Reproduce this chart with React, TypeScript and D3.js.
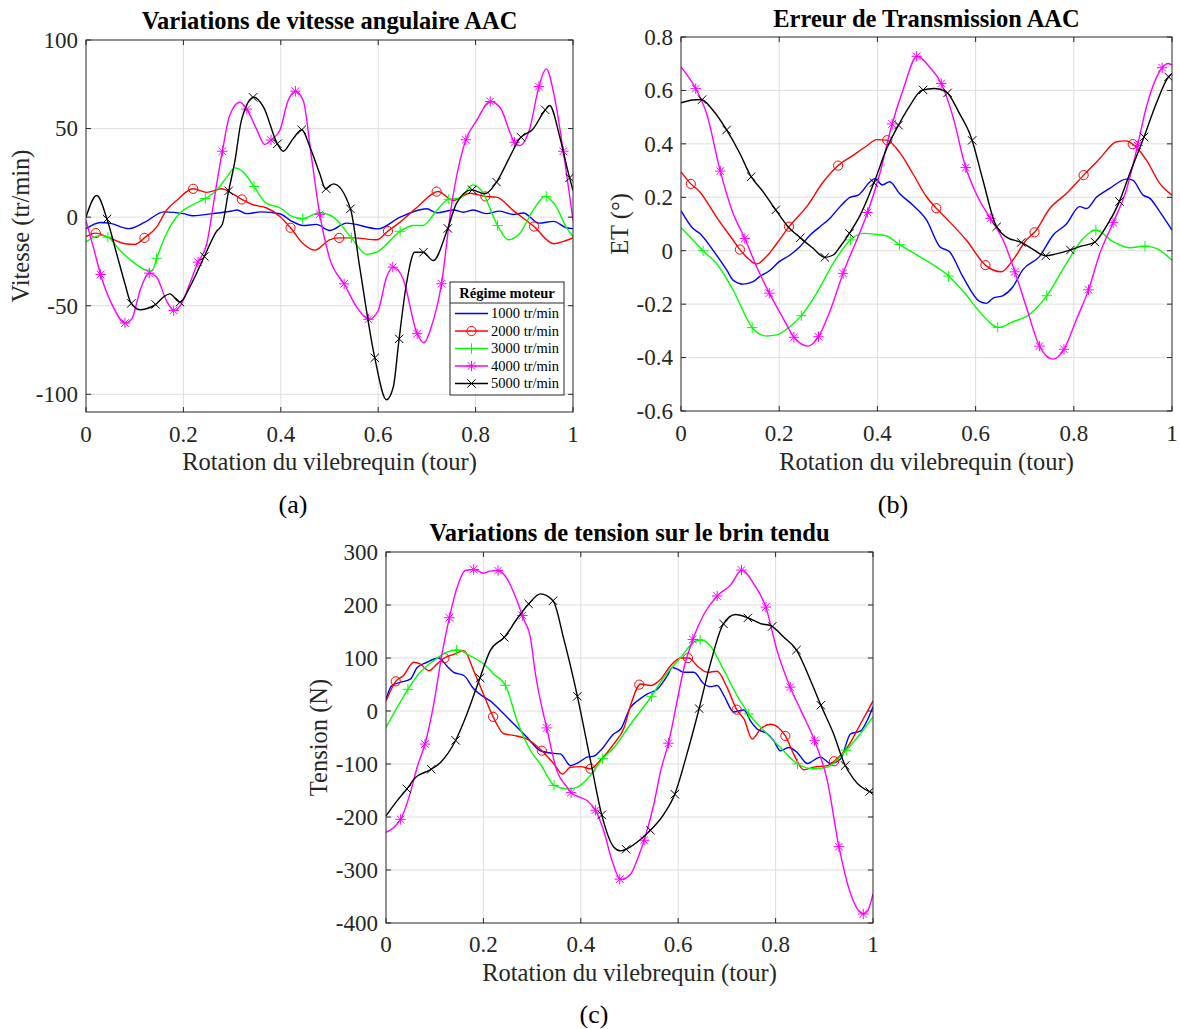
import React, { useEffect, useRef } from 'react';
import * as d3 from 'd3';

type P = [number, number];

// ---------- shared series info ----------
const seriesNames = ['1000 tr/min', '2000 tr/min', '3000 tr/min', '4000 tr/min', '5000 tr/min'];
const seriesColors = ['#0000ff', '#ff0000', '#00ff00', '#ff00ff', '#000000'];
const seriesMarkers = ['none', 'circle', 'plus', 'star', 'cross'];
const markerStart = [0, 0.02, 0.045, 0.03, 0.043];
const markerStep = [0, 0.1, 0.1, 0.05, 0.05];
const legendTitle = 'Régime moteur';

const xTicks = [0, 0.2, 0.4, 0.6, 0.8, 1];
const aYTicks = [-100, -50, 0, 50, 100];
const bYTicks = [-0.6, -0.4, -0.2, 0, 0.2, 0.4, 0.6, 0.8];
const cYTicks = [-400, -300, -200, -100, 0, 100, 200, 300];

// ---------- panel (a): Vitesse (tr/min) ----------
const aBlue: P[] = [[0,-6.5],[0.03,-3],[0.05,-3.5],[0.087,-6.5],[0.12,-3],[0.16,3],[0.2,2],[0.22,0.8],[0.26,2],[0.3,3.5],[0.31,4],[0.33,2],[0.36,3],[0.398,1.9],[0.42,-1.9],[0.446,-4.7],[0.473,-4.1],[0.5,-7.5],[0.535,-3.4],[0.6,-6.6],[0.645,0],[0.7,4.7],[0.72,2.4],[0.755,4],[0.775,2.8],[0.795,4],[0.822,2],[0.85,3.4],[0.877,1.5],[0.898,2.3],[0.93,-3.4],[0.96,-2.4],[0.986,-6],[1,-6.5]];
const aRed: P[] = [[0,-11],[0.02,-9],[0.045,-11.3],[0.08,-15],[0.1,-15.4],[0.12,-11.7],[0.145,-5.6],[0.165,3.8],[0.186,9.4],[0.22,16],[0.248,14],[0.278,16],[0.302,13],[0.32,10],[0.343,7],[0.37,5.3],[0.398,0.4],[0.42,-6],[0.446,-15],[0.47,-18.6],[0.5,-12.8],[0.52,-11.7],[0.55,-11.7],[0.597,-12.8],[0.62,-7.9],[0.645,-2.8],[0.68,5.6],[0.723,14.5],[0.754,9.4],[0.788,13.5],[0.82,11.7],[0.843,11.3],[0.877,3.8],[0.92,-5.3],[0.96,-15],[0.986,-13.2],[1,-11.7]];
const aGreen: P[] = [[0,-14],[0.03,-10.3],[0.045,-11.3],[0.07,-18.8],[0.097,-25.4],[0.124,-30],[0.135,-30.5],[0.147,-21.6],[0.165,-9.4],[0.193,2.3],[0.22,7.1],[0.246,10.7],[0.268,15],[0.289,22.6],[0.306,27.8],[0.323,25.4],[0.345,17.3],[0.37,7.9],[0.398,5.3],[0.42,0.9],[0.444,-0.9],[0.48,2.5],[0.508,0],[0.545,-11.7],[0.576,-21],[0.597,-19.8],[0.645,-8],[0.672,-4.7],[0.692,-4.7],[0.72,3.8],[0.744,10],[0.768,10.9],[0.794,18.2],[0.812,15],[0.845,-4.7],[0.867,-12.8],[0.89,-9.4],[0.918,3.8],[0.943,11.8],[0.966,5.6],[0.986,-5.6],[1,-10.9]];
const aMagenta: P[] = [[0,-2],[0.015,-16.9],[0.032,-34.2],[0.056,-50.8],[0.08,-59.8],[0.094,-57.4],[0.111,-41.4],[0.13,-31.6],[0.145,-33.9],[0.165,-47],[0.181,-52.7],[0.196,-48.9],[0.213,-37.6],[0.229,-26],[0.248,-15],[0.265,13.2],[0.28,37.2],[0.295,57.4],[0.316,64.9],[0.331,60.6],[0.35,49.8],[0.367,41],[0.379,43.3],[0.398,48.9],[0.415,65.8],[0.43,71.1],[0.446,65.8],[0.463,33.9],[0.479,3.2],[0.5,-23],[0.532,-38.6],[0.556,-50.8],[0.581,-57.7],[0.6,-52.7],[0.617,-33.9],[0.631,-28.2],[0.651,-34.8],[0.68,-65.8],[0.694,-70.9],[0.709,-62],[0.73,-37.6],[0.75,5.6],[0.779,42.9],[0.802,54.5],[0.83,65.3],[0.85,62],[0.88,42.3],[0.89,40.4],[0.911,49.8],[0.93,73.7],[0.945,83.7],[0.962,67.7],[0.98,37.2],[1,-1.9]];
const aBlack: P[] = [[0,0],[0.022,12.2],[0.044,-1.9],[0.063,-20.7],[0.08,-37.6],[0.092,-48.3],[0.111,-52.3],[0.124,-51.7],[0.142,-49.5],[0.159,-45.1],[0.172,-43.3],[0.193,-48],[0.213,-39.5],[0.243,-22.2],[0.268,-8],[0.28,-4],[0.292,13.5],[0.306,32],[0.319,54.5],[0.345,67.7],[0.364,62.4],[0.393,41.4],[0.405,37.2],[0.425,44.2],[0.443,49.3],[0.46,39.5],[0.48,24.5],[0.492,16],[0.508,18.8],[0.543,4.7],[0.562,-28.2],[0.593,-79.4],[0.617,-103.1],[0.631,-95.9],[0.642,-70.9],[0.658,-37.6],[0.675,-19.8],[0.692,-19.8],[0.713,-24.5],[0.742,-7.1],[0.761,7.9],[0.792,15.4],[0.819,13.2],[0.843,19.8],[0.87,33.9],[0.89,44.2],[0.918,49.8],[0.942,60.2],[0.952,63],[0.973,45.1],[0.99,25.4],[1,15]];

// ---------- panel (b): ET (deg) ----------
const bBlue: P[] = [[0,0.15],[0.024,0.084],[0.038,0.065],[0.065,0.002],[0.093,-0.072],[0.106,-0.11],[0.127,-0.125],[0.147,-0.116],[0.16,-0.097],[0.18,-0.075],[0.2,-0.041],[0.222,-0.016],[0.242,0.015],[0.263,0.059],[0.283,0.09],[0.303,0.121],[0.324,0.165],[0.344,0.2],[0.361,0.208],[0.385,0.258],[0.395,0.27],[0.41,0.246],[0.425,0.258],[0.445,0.214],[0.472,0.171],[0.5,0.115],[0.527,0.015],[0.547,-0.004],[0.574,-0.097],[0.608,-0.19],[0.622,-0.197],[0.635,-0.178],[0.656,-0.168],[0.676,-0.135],[0.696,-0.072],[0.73,-0.022],[0.758,0.059],[0.785,0.1],[0.812,0.165],[0.826,0.158],[0.846,0.2],[0.873,0.233],[0.907,0.268],[0.92,0.264],[0.941,0.208],[0.955,0.196],[0.975,0.146],[1,0.077]];
const bRed: P[] = [[0,0.295],[0.019,0.252],[0.038,0.221],[0.072,0.127],[0.106,0.04],[0.121,0.002],[0.14,-0.035],[0.154,-0.05],[0.174,-0.022],[0.195,0.027],[0.22,0.09],[0.256,0.165],[0.29,0.258],[0.319,0.317],[0.351,0.358],[0.378,0.392],[0.399,0.416],[0.419,0.414],[0.446,0.366],[0.472,0.289],[0.5,0.202],[0.522,0.155],[0.547,0.108],[0.581,0.04],[0.62,-0.054],[0.652,-0.079],[0.676,-0.035],[0.703,0.04],[0.721,0.071],[0.751,0.158],[0.785,0.214],[0.82,0.283],[0.853,0.345],[0.887,0.408],[0.907,0.411],[0.92,0.399],[0.948,0.339],[0.975,0.252],[1,0.208]];
const bGreen: P[] = [[0,0.086],[0.018,0.052],[0.047,-0.004],[0.072,-0.047],[0.106,-0.147],[0.146,-0.29],[0.174,-0.319],[0.195,-0.315],[0.222,-0.284],[0.246,-0.241],[0.276,-0.16],[0.31,-0.047],[0.346,0.042],[0.371,0.065],[0.399,0.061],[0.419,0.055],[0.444,0.024],[0.486,-0.022],[0.545,-0.095],[0.581,-0.166],[0.608,-0.228],[0.647,-0.287],[0.676,-0.266],[0.703,-0.247],[0.746,-0.166],[0.785,-0.047],[0.819,0.046],[0.845,0.077],[0.88,0.034],[0.914,0.011],[0.943,0.017],[0.968,0.009],[1,-0.037]];
const bMagenta: P[] = [[0,0.688],[0.031,0.603],[0.052,0.514],[0.08,0.298],[0.106,0.14],[0.13,0.046],[0.154,-0.06],[0.182,-0.166],[0.208,-0.253],[0.23,-0.324],[0.259,-0.357],[0.28,-0.322],[0.303,-0.228],[0.332,-0.075],[0.358,0.04],[0.38,0.143],[0.405,0.289],[0.429,0.468],[0.452,0.601],[0.481,0.728],[0.506,0.688],[0.53,0.626],[0.554,0.501],[0.579,0.317],[0.601,0.214],[0.632,0.115],[0.656,0.04],[0.68,-0.079],[0.703,-0.209],[0.73,-0.357],[0.758,-0.406],[0.78,-0.369],[0.805,-0.259],[0.831,-0.141],[0.853,-0.01],[0.88,0.105],[0.907,0.227],[0.927,0.37],[0.948,0.539],[0.98,0.685],[0.992,0.701],[1,0.695]];
const bBlack: P[] = [[0,0.554],[0.024,0.564],[0.041,0.566],[0.065,0.526],[0.091,0.458],[0.12,0.364],[0.141,0.283],[0.167,0.221],[0.191,0.158],[0.218,0.09],[0.242,0.05],[0.269,0.009],[0.293,-0.025],[0.31,-0.016],[0.324,0.015],[0.343,0.065],[0.365,0.133],[0.395,0.264],[0.419,0.383],[0.443,0.47],[0.465,0.539],[0.491,0.601],[0.516,0.607],[0.54,0.595],[0.567,0.514],[0.591,0.424],[0.615,0.264],[0.639,0.105],[0.662,0.052],[0.693,0.031],[0.717,0.005],[0.742,-0.019],[0.764,-0.012],[0.792,0.002],[0.815,0.017],[0.841,0.03],[0.866,0.09],[0.892,0.18],[0.914,0.289],[0.941,0.416],[0.968,0.551],[0.993,0.651],[1,0.663]];

// ---------- panel (c): Tension (N) ----------
const cBlue: P[] = [[0,22],[0.012,48],[0.029,54],[0.05,60],[0.064,82],[0.084,92],[0.108,100],[0.125,85],[0.139,73],[0.16,67],[0.18,42],[0.2,27],[0.214,19],[0.235,1],[0.262,-24],[0.29,-50],[0.317,-75],[0.345,-80],[0.358,-81],[0.379,-103],[0.392,-99],[0.413,-87],[0.427,-85],[0.44,-75],[0.468,-43],[0.482,-34],[0.502,7],[0.516,19],[0.536,32],[0.557,41],[0.578,67],[0.588,82],[0.598,79],[0.612,73],[0.632,73],[0.653,51],[0.666,46],[0.68,48],[0.694,29],[0.714,-2],[0.735,2],[0.748,-18],[0.762,-34],[0.783,-43],[0.796,-56],[0.81,-75],[0.827,-69],[0.844,-78],[0.865,-99],[0.892,-87],[0.913,-99],[0.933,-91],[0.954,-43],[0.974,-38],[0.988,-18],[1,8]];
const cRed: P[] = [[0,19],[0.02,56],[0.036,67],[0.057,92],[0.07,89],[0.088,76],[0.105,89],[0.122,101],[0.139,107],[0.16,114],[0.18,76],[0.2,32],[0.22,-11],[0.242,-43],[0.262,-46],[0.29,-53],[0.319,-74],[0.345,-100],[0.362,-119],[0.379,-106],[0.4,-105],[0.42,-109],[0.44,-93],[0.468,-62],[0.489,-31],[0.502,10],[0.523,51],[0.543,48],[0.564,60],[0.584,85],[0.605,100],[0.622,100],[0.639,85],[0.66,73],[0.68,75],[0.7,45],[0.721,1],[0.735,-15],[0.752,-53],[0.769,-34],[0.79,-25],[0.82,-47],[0.837,-81],[0.858,-111],[0.878,-106],[0.906,-103],[0.921,-94],[0.947,-69],[0.974,-25],[1,19]];
const cGreen: P[] = [[0,-31],[0.023,7],[0.045,41],[0.07,73],[0.098,95],[0.125,111],[0.147,115],[0.173,104],[0.2,89],[0.221,70],[0.247,45],[0.269,-18],[0.297,-75],[0.317,-100],[0.346,-141],[0.372,-147],[0.392,-144],[0.42,-121],[0.444,-91],[0.468,-69],[0.502,-25],[0.543,25],[0.571,64],[0.605,101],[0.632,130],[0.647,134],[0.666,123],[0.687,89],[0.721,29],[0.747,-8],[0.776,-37],[0.81,-69],[0.844,-99],[0.878,-109],[0.906,-106],[0.943,-76],[0.974,-43],[1,-11]];
const cMagenta: P[] = [[0,-229],[0.016,-220],[0.032,-201],[0.05,-154],[0.064,-106],[0.081,-59],[0.098,13],[0.115,108],[0.131,180],[0.146,233],[0.163,265],[0.182,267],[0.2,260],[0.214,264],[0.229,265],[0.249,249],[0.266,215],[0.282,175],[0.297,136],[0.306,75],[0.331,-36],[0.351,-113],[0.372,-144],[0.38,-154],[0.399,-163],[0.413,-169],[0.431,-189],[0.447,-226],[0.464,-282],[0.482,-318],[0.502,-308],[0.519,-273],[0.532,-238],[0.55,-176],[0.564,-113],[0.581,-57],[0.598,20],[0.612,82],[0.63,135],[0.653,183],[0.681,218],[0.707,237],[0.731,266],[0.755,240],[0.78,196],[0.803,114],[0.83,45],[0.854,-3],[0.88,-56],[0.906,-131],[0.93,-256],[0.954,-345],[0.98,-383],[0.989,-377],[1,-345]];
const cBlack: P[] = [[0,-198],[0.023,-169],[0.043,-147],[0.06,-126],[0.091,-111],[0.112,-97],[0.141,-59],[0.166,-6],[0.192,60],[0.214,114],[0.244,140],[0.269,174],[0.293,202],[0.317,221],[0.343,208],[0.365,136],[0.392,32],[0.42,-94],[0.443,-196],[0.468,-257],[0.482,-264],[0.495,-260],[0.523,-242],[0.543,-225],[0.571,-194],[0.593,-157],[0.618,-81],[0.642,1],[0.666,89],[0.692,163],[0.718,182],[0.745,175],[0.769,165],[0.79,161],[0.817,139],[0.843,115],[0.872,57],[0.892,13],[0.919,-43],[0.941,-99],[0.96,-128],[0.993,-152],[1,-154]];

// ---------- layout (pixels, not data) ----------
const FONT = "'Liberation Serif', 'Times New Roman', serif";
const AXIS_COLOR = '#262626';
const GRID_COLOR = '#dedede';
const TICK_FS = 23;
const LABEL_FS = 24.5;
const TITLE_FS = 24.5;

interface PanelCfg {
  left: number; right: number; top: number; bottom: number;
  yDomain: [number, number]; yTicks: number[];
  title: string; yLabel: string; tag: string;
  series: P[][]; legend: boolean;
  titleY: number; xTickY: number; xLabelY: number; yLabelX: number; tagY: number; tagX: number;
}

const panels: PanelCfg[] = [
  { left: 86, right: 573, top: 40, bottom: 412, yDomain: [-110, 100], yTicks: aYTicks,
    title: 'Variations de vitesse angulaire AAC', yLabel: 'Vitesse (tr/min)', tag: '(a)',
    series: [aBlue, aRed, aGreen, aMagenta, aBlack], legend: true,
    titleY: 29, xTickY: 442, xLabelY: 470, yLabelX: 29, tagY: 513, tagX: 293 },
  { left: 681, right: 1172, top: 37, bottom: 411, yDomain: [-0.6, 0.8], yTicks: bYTicks,
    title: 'Erreur de Transmission AAC', yLabel: 'ET (°)', tag: '(b)',
    series: [bBlue, bRed, bGreen, bMagenta, bBlack], legend: false,
    titleY: 27, xTickY: 441, xLabelY: 470, yLabelX: 628, tagY: 513, tagX: 893 },
  { left: 386, right: 873, top: 552, bottom: 923, yDomain: [-400, 300], yTicks: cYTicks,
    title: 'Variations de tension sur le brin tendu', yLabel: 'Tension (N)', tag: '(c)',
    series: [cBlue, cRed, cGreen, cMagenta, cBlack], legend: false,
    titleY: 541, xTickY: 952, xLabelY: 981, yLabelX: 327, tagY: 1023, tagX: 594 },
];

function drawMarker(g: any, type: string, x: number, y: number, color: string) {
  if (type === 'none') return;
  if (type === 'circle') {
    g.append('circle').attr('cx', x).attr('cy', y).attr('r', 4.6)
      .attr('fill', 'none').attr('stroke', color).attr('stroke-width', 1);
    return;
  }
  const segs: number[][] = [];
  const s = 5.2;
  if (type === 'plus' || type === 'star') { segs.push([-s, 0, s, 0], [0, -s, 0, s]); }
  if (type === 'cross' || type === 'star') {
    const d = type === 'star' ? 3.8 : 4.2;
    segs.push([-d, -d, d, d], [-d, d, d, -d]);
  }
  segs.forEach(sg => {
    g.append('line').attr('x1', x + sg[0]).attr('y1', y + sg[1]).attr('x2', x + sg[2]).attr('y2', y + sg[3])
      .attr('stroke', color).attr('stroke-width', 1);
  });
}

function pointAtX(path: SVGPathElement, xt: number) {
  const total = path.getTotalLength();
  let lo = 0, hi = total;
  for (let i = 0; i < 40; i++) {
    const mid = (lo + hi) / 2;
    const p = path.getPointAtLength(mid);
    if (p.x < xt) lo = mid; else hi = mid;
  }
  return path.getPointAtLength((lo + hi) / 2);
}

export default function App() {
  const ref = useRef<SVGSVGElement>(null);
  useEffect(() => {
    const svg = d3.select(ref.current);
    svg.selectAll('*').remove();
    panels.forEach((cfg, pi) => {
      const x = d3.scaleLinear().domain([0, 1]).range([cfg.left, cfg.right]);
      const y = d3.scaleLinear().domain(cfg.yDomain).range([cfg.bottom, cfg.top]);
      const g = svg.append('g');
      const clipId = `clip${pi}`;
      g.append('clipPath').attr('id', clipId).append('rect')
        .attr('x', cfg.left).attr('y', cfg.top).attr('width', cfg.right - cfg.left).attr('height', cfg.bottom - cfg.top);
      g.append('rect').attr('x', cfg.left).attr('y', cfg.top).attr('width', cfg.right - cfg.left)
        .attr('height', cfg.bottom - cfg.top).attr('fill', '#fff');
      // grid
      xTicks.forEach(t => {
        if (t === 0 || t === 1) return;
        g.append('line').attr('x1', x(t)).attr('x2', x(t)).attr('y1', cfg.top).attr('y2', cfg.bottom)
          .attr('stroke', GRID_COLOR).attr('stroke-width', 1);
      });
      cfg.yTicks.forEach(t => {
        const yy = y(t);
        if (Math.abs(yy - cfg.top) < 1 || Math.abs(yy - cfg.bottom) < 1) return;
        g.append('line').attr('x1', cfg.left).attr('x2', cfg.right).attr('y1', yy).attr('y2', yy)
          .attr('stroke', GRID_COLOR).attr('stroke-width', 1);
      });
      // lines
      const line = d3.line<P>().x(d => x(d[0])).y(d => y(d[1])).curve(d3.curveMonotoneX);
      const lg = g.append('g').attr('clip-path', `url(#${clipId})`);
      cfg.series.forEach((data, si) => {
        const path = lg.append('path').attr('d', line(data) as string).attr('fill', 'none')
          .attr('stroke', seriesColors[si]).attr('stroke-width', 1.4);
        if (seriesMarkers[si] !== 'none') {
          const node = path.node() as SVGPathElement;
          for (let k = 0; ; k++) {
            const xv = markerStart[si] + k * markerStep[si];
            if (xv > 1.0001) break;
            const p = pointAtX(node, x(xv));
            drawMarker(lg, seriesMarkers[si], p.x, p.y, seriesColors[si]);
          }
        }
      });
      // box
      g.append('rect').attr('x', cfg.left).attr('y', cfg.top).attr('width', cfg.right - cfg.left)
        .attr('height', cfg.bottom - cfg.top).attr('fill', 'none').attr('stroke', AXIS_COLOR).attr('stroke-width', 1);
      const tl = 5;
      xTicks.forEach(t => {
        g.append('line').attr('x1', x(t)).attr('x2', x(t)).attr('y1', cfg.bottom).attr('y2', cfg.bottom - tl).attr('stroke', AXIS_COLOR);
        g.append('line').attr('x1', x(t)).attr('x2', x(t)).attr('y1', cfg.top).attr('y2', cfg.top + tl).attr('stroke', AXIS_COLOR);
        g.append('text').attr('x', x(t)).attr('y', cfg.xTickY).attr('text-anchor', 'middle')
          .attr('font-family', FONT).attr('font-size', TICK_FS).attr('fill', AXIS_COLOR).text(String(t));
      });
      cfg.yTicks.forEach(t => {
        g.append('line').attr('x1', cfg.left).attr('x2', cfg.left + tl).attr('y1', y(t)).attr('y2', y(t)).attr('stroke', AXIS_COLOR);
        g.append('line').attr('x1', cfg.right).attr('x2', cfg.right - tl).attr('y1', y(t)).attr('y2', y(t)).attr('stroke', AXIS_COLOR);
        g.append('text').attr('x', cfg.left - 8).attr('y', y(t)).attr('dy', '0.34em').attr('text-anchor', 'end')
          .attr('font-family', FONT).attr('font-size', TICK_FS).attr('fill', AXIS_COLOR).text(String(t));
      });
      // labels
      const cx = (cfg.left + cfg.right) / 2;
      const cy = (cfg.top + cfg.bottom) / 2;
      g.append('text').attr('x', cx).attr('y', cfg.titleY).attr('text-anchor', 'middle')
        .attr('font-family', FONT).attr('font-size', TITLE_FS).attr('font-weight', 'bold').attr('fill', '#000').text(cfg.title);
      g.append('text').attr('x', cx).attr('y', cfg.xLabelY).attr('text-anchor', 'middle')
        .attr('font-family', FONT).attr('font-size', LABEL_FS).attr('fill', AXIS_COLOR).text('Rotation du vilebrequin (tour)');
      g.append('text').attr('transform', `translate(${cfg.yLabelX},${cy}) rotate(-90)`).attr('text-anchor', 'middle')
        .attr('font-family', FONT).attr('font-size', LABEL_FS).attr('fill', AXIS_COLOR).text(cfg.yLabel);
      g.append('text').attr('x', cfg.tagX).attr('y', cfg.tagY).attr('text-anchor', 'middle')
        .attr('font-family', FONT).attr('font-size', 26).attr('fill', '#000').text(cfg.tag);

      if (cfg.legend) {
        const L = { x: 450, y: 282, w: 114, h: 113, div: 303 };
        const lgd = g.append('g');
        lgd.append('rect').attr('x', L.x).attr('y', L.y).attr('width', L.w).attr('height', L.h)
          .attr('fill', '#fff').attr('stroke', AXIS_COLOR).attr('stroke-width', 1);
        lgd.append('line').attr('x1', L.x).attr('x2', L.x + L.w).attr('y1', L.div).attr('y2', L.div)
          .attr('stroke', AXIS_COLOR).attr('stroke-width', 1);
        lgd.append('text').attr('x', L.x + L.w / 2).attr('y', 298).attr('text-anchor', 'middle')
          .attr('font-family', FONT).attr('font-size', 14.5).attr('font-weight', 'bold').attr('fill', '#000').text(legendTitle);
        seriesNames.forEach((nm, si) => {
          const yy = 313.5 + si * 17.5;
          lgd.append('line').attr('x1', 455).attr('x2', 488).attr('y1', yy).attr('y2', yy)
            .attr('stroke', seriesColors[si]).attr('stroke-width', 1.4);
          drawMarker(lgd, seriesMarkers[si], 471.5, yy, seriesColors[si]);
          lgd.append('text').attr('x', 491).attr('y', yy).attr('dy', '0.34em')
            .attr('font-family', FONT).attr('font-size', 14.5).attr('fill', '#000').text(nm);
        });
      }
    });
  }, []);
  return (
    <svg ref={ref} width={1180} height={1029}
      style={{ position: 'absolute', left: 0, top: 0, background: '#fff', display: 'block' }} />
  );
}
